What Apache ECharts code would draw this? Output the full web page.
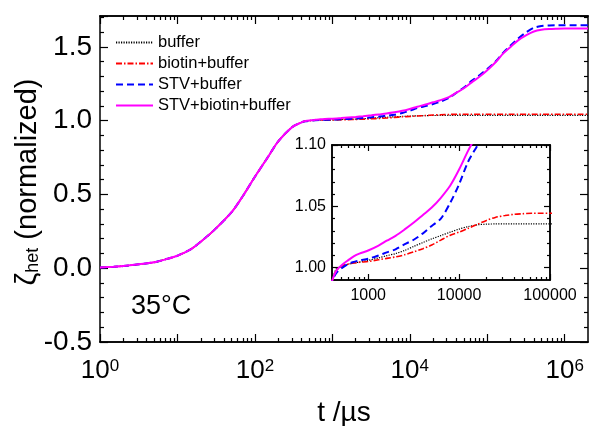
<!DOCTYPE html>
<html><head><meta charset="utf-8">
<script src="https://cdn.jsdelivr.net/npm/echarts@6/dist/echarts.min.js"></script>
<style>html,body{margin:0;padding:0;background:#fff}#c{width:589px;height:426px}</style>
</head><body><div id="c"></div>
<script>
// ---- data ----
const seriesNames = ['buffer', 'biotin+buffer', 'STV+buffer', 'STV+biotin+buffer'];
const timeUs = [1,1.5,2,3,5,7,10,15,20,30,50,70,100,150,200,300,
  400,450,530,600,700,800,1000,1300,1600,2000,2500,3200,4000,5000,6300,8000,
  10000,12500,16000,20000,25000,32000,40000,50000,63000,80000,
  100000,130000,160000,200000,250000,320000,400000,500000,630000,800000,
  1000000,1300000,1600000,2000000];
const bufferVals = [0.005,0.01,0.015,0.025,0.04,0.06,0.085,0.13,0.18,0.26,0.38,0.49,0.62,0.76,0.86,0.955,
  0.989,0.9995,1.001,1.0028,1.0038,1.0046,1.006,1.008,1.0098,1.0115,1.014,1.0175,1.0205,1.0235,1.0262,1.029,
  1.0315,1.0335,1.035,1.0355,1.0357,1.0358,1.0358,1.0358,1.0358,1.0358,
  1.0358,1.0358,1.0358,1.0358,1.0358,1.0358,1.0358,1.0358,1.0358,1.0358,
  1.0358,1.0358,1.0358,1.0358];
const biotinVals = [0.005,0.01,0.015,0.025,0.04,0.06,0.085,0.13,0.18,0.26,0.38,0.49,0.62,0.76,0.86,0.955,
  0.989,0.998,1.0019,1.003,1.0038,1.0044,1.0051,1.0065,1.0076,1.0088,1.0105,1.013,1.0155,1.0185,1.0225,1.0265,
  1.029,1.032,1.0355,1.0385,1.041,1.0425,1.0435,1.044,1.0444,1.0444,
  1.0444,1.0444,1.0444,1.0444,1.0444,1.0444,1.0444,1.0444,1.0444,1.0444,
  1.0444,1.0444,1.0444,1.0444];
const stvVals = [0.005,0.01,0.015,0.025,0.04,0.06,0.085,0.13,0.18,0.26,0.38,0.49,0.62,0.76,0.86,0.955,
  0.989,0.996,1.0005,1.003,1.0048,1.006,1.0073,1.01,1.0125,1.015,1.019,1.023,1.028,1.034,1.040,1.053,
  1.068,1.086,1.10,1.113,1.13,1.155,1.19,1.225,1.27,1.31,
  1.35,1.405,1.46,1.51,1.557,1.60,1.63,1.642,1.646,1.647,
  1.647,1.647,1.647,1.647];
const stvBiotinVals = [0.005,0.01,0.015,0.025,0.04,0.06,0.085,0.13,0.18,0.26,0.38,0.49,0.62,0.76,0.86,0.955,
  0.989,0.998,1.003,1.006,1.0095,1.0115,1.014,1.018,1.022,1.026,1.031,1.037,1.043,1.049,1.057,1.067,
  1.08,1.095,1.11,1.125,1.14,1.16,1.19,1.22,1.26,1.30,
  1.343,1.40,1.455,1.50,1.545,1.58,1.605,1.617,1.622,1.624,
  1.625,1.625,1.625,1.625];
const mainXLabelValues = [1, 100, 10000, 1000000];
const mainXMajorTicks = [1, 10, 100, 1000, 10000, 100000, 1000000];
const mainYLabelValues = [-0.5, 0, 0.5, 1.0, 1.5];
const insetXLabelValues = [1000, 10000, 100000];
const insetYLabelValues = [1.00, 1.05, 1.10];
const insetYMinorTicks = [1.01, 1.02, 1.03, 1.04, 1.06, 1.07, 1.08, 1.09];

// ---- helpers ----
function minorsBetween(lo, hi) {
  const out = [];
  for (let d = 1; d <= 1e7; d *= 10) for (let k = 2; k <= 9; k++) {
    const w = k * d;
    if (w > lo && w < hi) out.push(w);
  }
  return out;
}
const FONT = 'Liberation Sans, Arial, sans-serif';
const colors = ['#000000', '#ff0000', '#0000ff', '#ff00ff'];
const lineStyles = [
  { width: 1.2, type: [1.2, 1.3] },
  { width: 1.6, type: [6, 2, 1.5, 2] },
  { width: 2, type: [7, 4] },
  { width: 2, type: 'solid' }
];
const allVals = [bufferVals, biotinVals, stvVals, stvBiotinVals];
const pairs = v => timeUs.map((t, i) => [t, v[i]]);

const axLine = { show: true, onZero: false, lineStyle: { color: '#000', width: 1.5 } };

function xAx(grid, pos, min, max, ticks, len, labelCfg, extra) {
  return Object.assign({
    gridIndex: grid, type: 'log', logBase: 10, min: min, max: max, position: pos, offset: 0,
    axisLine: axLine,
    axisTick: { show: true, inside: true, length: len, customValues: ticks, lineStyle: { color: '#000', width: 1.2 } },
    axisLabel: labelCfg || { show: false },
    splitLine: { show: false }, minorTick: { show: false }, minorSplitLine: { show: false }
  }, extra || {});
}

const mainMin = 1, mainMax = 2000000;
const insetMin = 400, insetMax = 100000;

const xAxes = [
  xAx(0, 'bottom', mainMin, mainMax, mainXMajorTicks, 8, {
    show: true, customValues: mainXLabelValues, margin: 16,
    formatter: v => '{b|10}{s|' + Math.round(Math.log10(v)) + '}',
    rich: { b: { fontSize: 26, fontFamily: FONT, color: '#000' },
            s: { fontSize: 17, fontFamily: FONT, color: '#000', verticalAlign: 'top' } }
  }, { name: 't /µs', nameLocation: 'middle', nameGap: 57,
       nameTextStyle: { fontSize: 28, fontFamily: FONT, color: '#000' } }),
  xAx(0, 'bottom', mainMin, mainMax, minorsBetween(mainMin, mainMax), 4),
  xAx(0, 'top', mainMin, mainMax, mainXMajorTicks, 8),
  xAx(0, 'top', mainMin, mainMax, minorsBetween(mainMin, mainMax), 4),
  xAx(1, 'bottom', insetMin, insetMax, insetXLabelValues, 6, {
    show: true, customValues: insetXLabelValues, margin: 8,
    formatter: v => String(Math.round(v)), fontSize: 16, fontFamily: FONT, color: '#000'
  }),
  xAx(1, 'bottom', insetMin, insetMax, minorsBetween(insetMin, insetMax), 3),
  xAx(1, 'top', insetMin, insetMax, insetXLabelValues, 6),
  xAx(1, 'top', insetMin, insetMax, minorsBetween(insetMin, insetMax), 3)
];

function mainY(pos, showLabel) {
  return {
    gridIndex: 0, type: 'value', position: pos, offset: 0, min: -0.5, max: 1.71, interval: 0.5,
    axisLine: axLine,
    axisTick: { show: true, inside: true, length: 8, lineStyle: { color: '#000', width: 1.2 } },
    minorTick: { show: true, splitNumber: 5, length: 4, lineStyle: { color: '#000', width: 1.2 } },
    axisLabel: showLabel ? { show: true, customValues: mainYLabelValues,
      margin: 8, fontSize: 28, fontFamily: FONT, color: '#000',
      formatter: v => v.toFixed(1) } : { show: false },
    splitLine: { show: false }
  };
}
function insetY(pos, ticks, len, showLabel) {
  return {
    gridIndex: 1, type: 'value', position: pos, offset: 0, min: 0.99, max: 1.10,
    axisLine: axLine,
    axisTick: { show: true, inside: true, length: len, customValues: ticks, lineStyle: { color: '#000', width: 1.2 } },
    axisLabel: showLabel ? { show: true, customValues: insetYLabelValues, margin: 6, fontSize: 16,
      fontFamily: FONT, color: '#000', formatter: v => v.toFixed(2) } : { show: false },
    splitLine: { show: false }, minorTick: { show: false }
  };
}
const yAxes = [
  mainY('left', true),
  mainY('right', false),
  insetY('left', insetYLabelValues, 6, true),
  insetY('left', insetYMinorTicks, 3, false),
  insetY('right', insetYLabelValues, 6, false),
  insetY('right', insetYMinorTicks, 3, false)
];

const series = [];
seriesNames.forEach((n, i) => {
  series.push({ name: n, type: 'line', xAxisIndex: 0, yAxisIndex: 0, data: pairs(allVals[i]),
    showSymbol: false, symbol: 'none', smooth: 0.3, color: colors[i],
    lineStyle: Object.assign({ color: colors[i] }, lineStyles[i]), z: 2 + i });
});
seriesNames.forEach((n, i) => {
  series.push({ name: n, type: 'line', xAxisIndex: 4, yAxisIndex: 2, data: pairs(allVals[i]),
    showSymbol: false, symbol: 'none', smooth: 0.3, color: colors[i], clip: true,
    lineStyle: Object.assign({ color: colors[i] }, lineStyles[i]), z: 2 + i });
});

const chart = echarts.init(document.getElementById('c'), null, { renderer: 'canvas' });
chart.setOption({
  animation: false,
  backgroundColor: '#fff',
  textStyle: { fontFamily: FONT },
  grid: [
    { left: 100, right: 1, top: 16, bottom: 84, outerBoundsMode: 'none', containLabel: false },
    { left: 332, top: 145, width: 218, height: 135, show: true, backgroundColor: '#fff', borderWidth: 0,
      outerBoundsMode: 'none', containLabel: false }
  ],
  xAxis: xAxes,
  yAxis: yAxes,
  legend: {
    data: seriesNames, orient: 'vertical', left: 115, top: 34, padding: 0,
    itemWidth: 37, itemHeight: 16, itemGap: 4,
    itemStyle: { opacity: 0 },
    textStyle: { fontSize: 16.5, fontFamily: FONT, color: '#000' }
  },
  graphic: [
    { type: 'text', x: 131, y: 307, style: { text: '35°C', fontSize: 27, fontFamily: FONT, fill: '#000',
      verticalAlign: 'middle', align: 'left' } },
    { type: 'text', x: 28, y: 182, rotation: Math.PI / 2,
      style: { text: '{z|ζ}{h|het}{n| (normalized)}', align: 'center', verticalAlign: 'middle',
        rich: { z: { fontSize: 29, fontFamily: FONT, fill: '#000' },
                h: { fontSize: 18, fontFamily: FONT, fill: '#000', verticalAlign: 'bottom' },
                n: { fontSize: 29, fontFamily: FONT, fill: '#000' } } } }
  ],
  series: series
});
</script></body></html>
